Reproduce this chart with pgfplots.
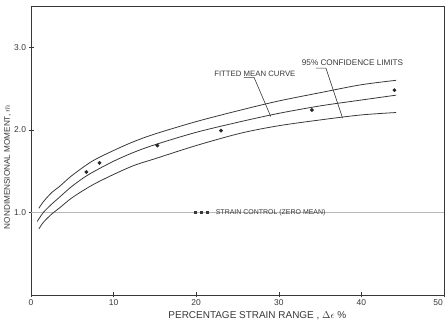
\documentclass[border=0pt]{standalone}
\usepackage{pgfplots}
\pgfplotsset{compat=1.18}
\usepackage{fontspec}
\setmainfont{Liberation Sans}
\definecolor{ink}{gray}{0.22}
\definecolor{lightline}{gray}{0.72}
\begin{document}
\begin{tikzpicture}
\begin{axis}[
  width=413bp, height=289bp, scale only axis,
  xmin=0, xmax=50, ymin=0, ymax=3.5,
  axis line style={ink, line width=0.8pt},
  xtick={0,10,20,30,40,50},
  xticklabels={0,10,20,30,40,\hspace*{-12bp}50},
  ytick={1,2,3},
  yticklabels={1.0,2.0,3.0},
  tick align=center,
  major tick length=5bp,
  tick style={ink, line width=0.6pt},
  xtick pos=bottom, ytick pos=left,
  ticklabel style={font=\fontsize{8.5}{9}\selectfont, text=ink},
  xticklabel style={yshift=1bp},
  yticklabel style={xshift=1bp},
  xlabel={PERCENTAGE STRAIN RANGE , $\Delta\epsilon$ \%},
  xlabel style={font=\fontsize{10}{11}\selectfont, text=ink, at={(axis description cs:0.548,0)}, anchor=north, yshift=-13bp},
  ylabel={NONDIMENSIONAL MOMENT, $\bar{m}$},
  ylabel style={font=\fontsize{8.2}{9}\selectfont, text=ink, at={(axis description cs:-0.040,0.443)}, anchor=south},
  clip=false,
]
% strain control reference line
\addplot[lightline, line width=0.8pt] coordinates {(0,1.0) (50,1.0)};
% upper 95% confidence limit
\addplot[ink, line width=0.8pt, smooth] coordinates {
 (0.95,1.05) (1.5,1.13) (2.5,1.24) (3.4,1.31) (5,1.45) (7.4,1.62) (10,1.75)
 (12.5,1.86) (15,1.95) (20,2.10) (25.4,2.24) (30,2.35) (35,2.45) (39.9,2.545) (44.2,2.60)};
% fitted mean curve
\addplot[ink, line width=0.8pt, smooth] coordinates {
 (0.75,0.89) (1.5,1.00) (2.5,1.10) (3.4,1.18) (5,1.32) (7,1.46) (10,1.62)
 (12.5,1.73) (15,1.82) (20,1.97) (25.4,2.10) (30,2.20) (35,2.29) (39.9,2.36) (44.2,2.42)};
% lower 95% confidence limit
\addplot[ink, line width=0.8pt, smooth] coordinates {
 (0.95,0.80) (1.5,0.88) (2.5,0.98) (3.4,1.05) (5,1.18) (7.4,1.33) (10,1.46)
 (12.5,1.57) (15,1.65) (20,1.81) (25.4,1.96) (30,2.05) (35,2.12) (39.9,2.18) (44.2,2.21)};
% test data
\addplot[only marks, mark=*, mark size=1.7pt, color=black!85] coordinates {
 (6.7,1.49) (8.3,1.60) (15.3,1.81) (23.0,1.99) (34.0,2.24) (44.0,2.48)};
% annotations
\draw[ink, line width=0.6pt] (axis cs:25.76,2.636) -- (axis cs:27.0,2.636) -- (axis cs:29.03,2.161);
\draw[ink, line width=0.6pt] (axis cs:34.48,2.748) -- (axis cs:35.7,2.748) -- (axis cs:37.72,2.142);
\node[font=\fontsize{7.8}{8}\selectfont, text=ink] at (axis cs:27.1,2.675) {FITTED MEAN CURVE};
\node[font=\fontsize{8.2}{9}\selectfont, text=ink] at (axis cs:38.93,2.81) {95\% CONFIDENCE LIMITS};
\node[font=\fontsize{7}{8}\selectfont, text=ink, anchor=west, inner sep=0pt] at (axis cs:19.7,1.0)
  {\rule{3pt}{3pt}\hspace{3pt}\rule{3pt}{3pt}\hspace{3pt}\rule{3pt}{3pt}\hspace{7pt}STRAIN CONTROL (ZERO MEAN)};
\end{axis}
\pgfresetboundingbox
\path (current axis.south west) ++(-31bp,-33bp) rectangle ([shift={(3bp,6bp)}]current axis.north east);
\end{tikzpicture}
\end{document}
